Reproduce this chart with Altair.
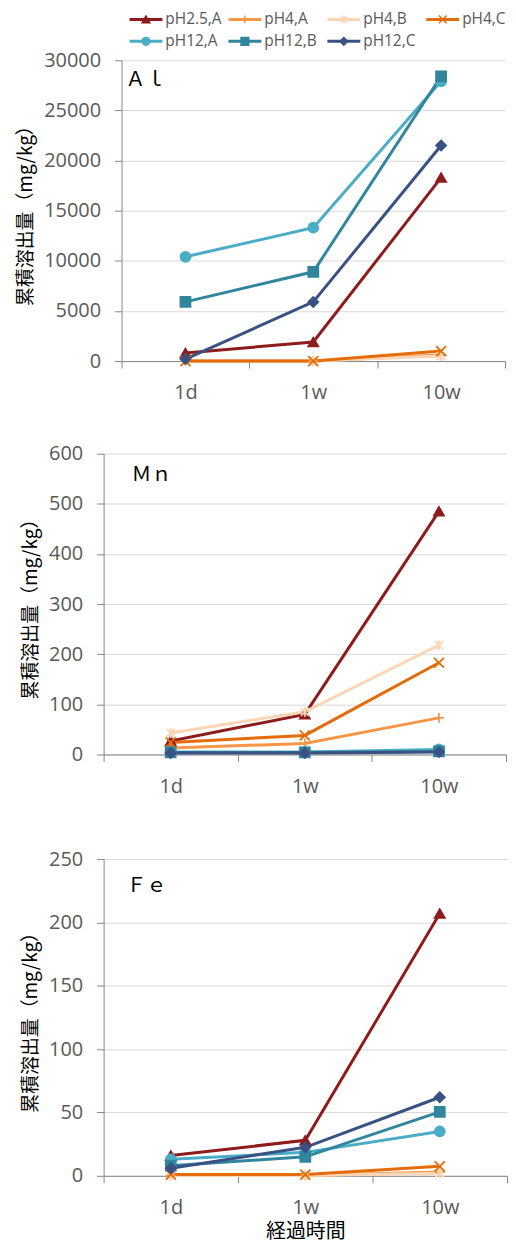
import altair as alt
import pandas as pd

series = ["pH2.5,A", "pH4,A", "pH4,B", "pH4,C", "pH12,A", "pH12,B", "pH12,C"]
times = ["1d", "1w", "10w"]
colors = ["#8E1C1C", "#F79646", "#FCD5B5", "#E46C0A", "#4BACC6", "#31859C", "#3A5184"]
shapes = [
    "triangle-up",
    "M-1,0H1M0,-1V1",
    "M-0.8,-0.8L0.8,0.8M-0.8,0.8L0.8,-0.8M0,-1V1",
    "M-1,-1L1,1M-1,1L1,-1",
    "circle",
    "square",
    "diamond",
]

al_vals = {
    "pH2.5,A": [800, 1900, 18300],
    "pH4,A": [0, 0, 600],
    "pH4,B": [0, 0, 500],
    "pH4,C": [0, 0, 1000],
    "pH12,A": [10400, 13300, 27900],
    "pH12,B": [5900, 8900, 28400],
    "pH12,C": [200, 5900, 21500],
}
mn_vals = {
    "pH2.5,A": [27, 80, 485],
    "pH4,A": [13, 22, 73],
    "pH4,B": [43, 85, 218],
    "pH4,C": [24, 38, 183],
    "pH12,A": [5, 5, 10],
    "pH12,B": [4, 4, 6],
    "pH12,C": [3, 3, 5],
}
fe_vals = {
    "pH2.5,A": [16, 28, 207],
    "pH4,A": [0.3, 0.3, 3],
    "pH4,B": [0.2, 0.2, 2],
    "pH4,C": [1, 1, 7.5],
    "pH12,A": [13, 18.5, 35],
    "pH12,B": [8, 15, 50.5],
    "pH12,C": [6, 22.5, 62],
}
elements = ["Ａｌ", "Ｍｎ", "Ｆｅ"]
y_title = "累積溶出量（mg/kg）"
x_title = "経過時間"

cscale = alt.Scale(domain=series, range=colors)
sscale = alt.Scale(domain=series, range=shapes)


def long_df(vals):
    rows = []
    for s in series:
        for i, t in enumerate(times):
            rows.append({"series": s, "time": t, "t_idx": i, "v": vals[s][i]})
    return pd.DataFrame(rows)


def panel(vals, label, ymax, ystep, width, height, inset, lab_x, lab_y, show_xtitle):
    df = long_df(vals)
    x = alt.X(
        "time:N",
        sort=times,
        scale=alt.Scale(type="band", paddingInner=0, paddingOuter=0, range=[inset, width]),
        axis=alt.Axis(
            title=x_title if show_xtitle else None,
            tickBand="extent",
            labelAngle=0,
            grid=False,
            labelPadding=15,
            titlePadding=4,
            titleFontSize=20,
        ),
    )
    y = alt.Y(
        "v:Q",
        scale=alt.Scale(domain=[0, ymax], nice=False),
        axis=alt.Axis(
            values=list(range(0, ymax + 1, ystep)),
            format="d",
            title=y_title,
            labelPadding=14,
            titlePadding=8,
            offset=-inset,
        ),
    )
    base = alt.Chart(df).encode(x=x, y=y)
    lines = base.mark_line(strokeWidth=3).encode(
        color=alt.Color("series:N", scale=cscale, legend=None),
        order=alt.Order("t_idx:Q"),
    )
    pts = base.mark_point(filled=True, size=100, strokeWidth=1.8, opacity=1).encode(
        fill=alt.Fill("series:N", scale=cscale, legend=None),
        stroke=alt.Stroke("series:N", scale=cscale, legend=None),
        shape=alt.Shape("series:N", scale=sscale, legend=None),
    )
    txt = alt.Chart(pd.DataFrame({"t": [label]})).mark_text(
        align="left", baseline="middle", font="Noto Sans CJK JP", fontSize=20, color="#000000"
    ).encode(x=alt.value(lab_x), y=alt.value(lab_y), text="t:N")
    return alt.layer(lines, pts, txt).properties(width=width, height=height)


# legend
leg_df = pd.DataFrame({
    "series": series,
    "col": [0, 1, 2, 3, 0, 1, 2],
    "row": [0, 0, 0, 0, 1, 1, 1],
})
lx = alt.X("col:Q", scale=alt.Scale(domain=[0, 3], range=[26, 324]), axis=None)
ly = alt.Y("row:Q", scale=alt.Scale(domain=[0, 1], range=[9, 31]), axis=None)
lbase = alt.Chart(leg_df).encode(x=lx, y=ly)
lrule = lbase.mark_rule(strokeWidth=3, x2Offset=33).encode(
    x2="col:Q", color=alt.Color("series:N", scale=cscale, legend=None)
)
lpts = lbase.mark_point(filled=True, size=60, strokeWidth=1.5, opacity=1, xOffset=16.5).encode(
    fill=alt.Fill("series:N", scale=cscale, legend=None),
    stroke=alt.Stroke("series:N", scale=cscale, legend=None),
    shape=alt.Shape("series:N", scale=sscale, legend=None),
)
ltxt = lbase.mark_text(
    align="left", baseline="middle", dx=36, fontSize=15.5, color="#595959", font="Open Sans"
).encode(text="series:N")
legend = alt.layer(lrule, lpts, ltxt).properties(width=398, height=36)

p1 = panel(al_vals, elements[0], 30000, 5000, 403, 302, 18, 22, 20, False)
p2 = panel(mn_vals, elements[1], 600, 100, 404, 302, 0, 28, 21, False)
p3 = panel(fe_vals, elements[2], 250, 50, 405, 318, 0, 23, 27, True)

top = alt.vconcat(legend, p1, spacing=0)
top2 = alt.vconcat(top, p2, spacing=41)
chart = alt.vconcat(top2, p3, spacing=53).properties(
    padding={"left": 8, "top": 0, "right": 0, "bottom": 0}
).configure_view(stroke=None).configure_axis(
    domainColor="#868686",
    tickColor="#868686",
    gridColor="#D9D9D9",
    labelColor="#595959",
    labelFont="Open Sans",
    labelFontSize=20,
    titleFont="Noto Sans CJK JP",
    titleFontSize=19,
    titleColor="#000000",
    titleFontWeight="normal",
    tickSize=7,
    domainWidth=1,
    tickWidth=1,
)

chart.save("out.html", embed_options={"renderer": "svg", "actions": False})
